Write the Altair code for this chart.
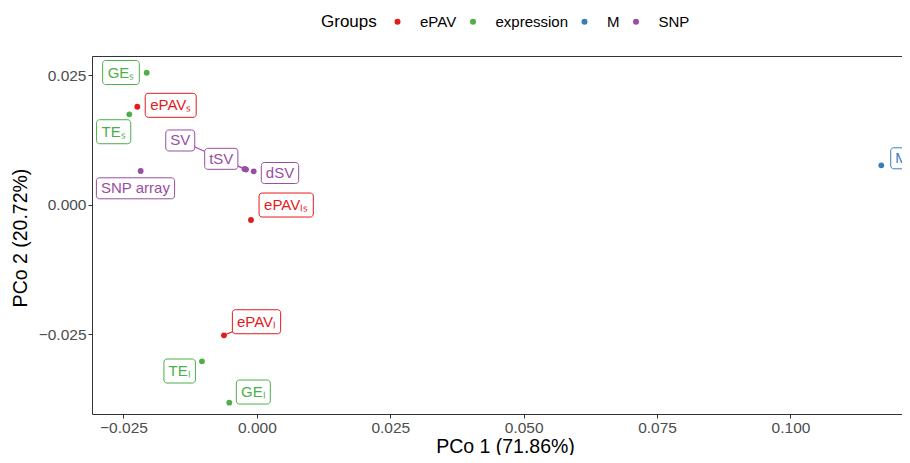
import altair as alt
import pandas as pd

# ---- data ----
labels = ["GEₛ", "ePAVₛ", "TEₛ", "SNP array", "SV", "tSV", "dSV",
          "ePAVₗₛ", "ePAVₗ", "TEₗ", "GEₗ", "M"]
groups = ["expression", "ePAV", "expression", "SNP", "SNP", "SNP", "SNP",
          "ePAV", "ePAV", "expression", "expression", "M"]
pco1 = [-0.02065, -0.02241, -0.02391, -0.02178, -0.00232, -0.00204, -0.00060,
        -0.00111, -0.00617, -0.01029, -0.00517, 0.11702]
pco2 = [0.02544, 0.01888, 0.01741, 0.00647, 0.00685, 0.00676, 0.00641,
        -0.00299, -0.02525, -0.03027, -0.03826, 0.00757]
# repelled label positions (data units)
label_x = [-0.02547, -0.01615, -0.02684, -0.02275, -0.01436, -0.00667, 0.00433,
           0.00549, -0.00007, -0.01447, -0.00067, 0.12080]
label_y = [0.02548, 0.01915, 0.01405, 0.00313, 0.01236, 0.00882, 0.00608,
           -0.0001, -0.02263, -0.03214, -0.03620, 0.00892]
has_segment = [False, False, False, False, True, True, False,
               False, True, False, False, False]

group_order = ["ePAV", "expression", "M", "SNP"]
group_colors = ["#E41A1C", "#4DAF4A", "#377EB8", "#984EA3"]

x_ticks = [-0.025, 0.0, 0.025, 0.05, 0.075, 0.1]
y_ticks = [-0.025, 0.0, 0.025]

# ---- layout ----
W, H = 810, 358
X_DOM = [-0.0309, 0.1209]
Y_DOM = [-0.04044, 0.02867]
FONT = "Liberation Sans"
LABEL_FS = 15

px_per_x = W / (X_DOM[1] - X_DOM[0])
px_per_y = H / (Y_DOM[1] - Y_DOM[0])

char_w = {'G': .778, 'E': .667, 'T': .611, 'e': .556, 'P': .667, 'A': .667,
          'V': .667, 'S': .667, 'N': .722, ' ': .278, 'a': .556, 'r': .333,
          'y': .5, 't': .278, 'd': .556, 'M': .833, 'ₛ': .40, 'ₗ': .22}


def text_px(s):
    w = sum(char_w.get(c, .556) for c in s)
    if "PAV" in s:
        w -= 0.16  # kerning of P-A-V
    return w * LABEL_FS


color_of = dict(zip(group_order, group_colors))
df = pd.DataFrame({"label": labels, "group": groups, "pco1": pco1, "pco2": pco2,
                   "lx": label_x, "ly": label_y, "seg": has_segment})
df["col"] = df["group"].map(color_of)
half_w = [(text_px(s) + 9) / 2 / px_per_x for s in labels]
half_h = [(24 if any(c in s for c in "ₛₗ") else 21) / 2 / px_per_y for s in labels]
df["bx1"] = df["lx"] - half_w
df["bx2"] = df["lx"] + half_w
df["by1"] = df["ly"] - half_h
df["by2"] = df["ly"] + half_h

xs = alt.Scale(domain=X_DOM, nice=False, zero=False)
ys = alt.Scale(domain=Y_DOM, nice=False, zero=False)
cs = alt.Scale(domain=group_order, range=group_colors)

x_axis = alt.Axis(values=x_ticks, format=".3f", title="PCo 1 (71.86%)",
                  titleX=413, titleY=38, titleBaseline="alphabetic")
y_axis = alt.Axis(values=y_ticks, format=".3f", title="PCo 2 (20.72%)",
                  titleX=-72, titleY=181.5, titleBaseline="middle", titleAngle=270)

base = alt.Chart(df)

segs = base.transform_filter("datum.seg").mark_rule(strokeWidth=1.2).encode(
    x=alt.X("pco1:Q", scale=xs, axis=x_axis),
    y=alt.Y("pco2:Q", scale=ys, axis=y_axis),
    x2="lx:Q", y2="ly:Q",
    stroke=alt.Stroke("col:N", scale=None),
)

boxes = base.mark_rect(fill="white", strokeWidth=1, cornerRadius=3).encode(
    x=alt.X("bx1:Q", scale=xs), x2="bx2:Q",
    y=alt.Y("by1:Q", scale=ys), y2="by2:Q",
    stroke=alt.Stroke("col:N", scale=None),
)

points = base.mark_circle(size=34, opacity=1).encode(
    x=alt.X("pco1:Q", scale=xs, axis=x_axis),
    y=alt.Y("pco2:Q", scale=ys, axis=y_axis),
    color=alt.Color("group:N", scale=cs, title="Groups",
                    legend=alt.Legend(orient="none", direction="horizontal",
                                      titleOrient="left", legendX=229, legendY=-42)),
)

texts = base.mark_text(fontSize=LABEL_FS, font=FONT, align="center",
                       baseline="middle").encode(
    x=alt.X("lx:Q", scale=xs), y=alt.Y("ly:Q", scale=ys),
    text="label:N",
    fill=alt.Fill("col:N", scale=None),
)

chart = alt.layer(segs, boxes, points, texts).properties(
    width=W, height=H,
    autosize=alt.AutoSizeParams(type="none"),
    padding={"left": 84, "top": 48, "right": 0, "bottom": 41},
).configure_view(
    stroke="#333333", strokeWidth=1
).configure_axis(
    domain=False, grid=False, tickColor="#333333", tickSize=4,
    labelFont=FONT, labelFontSize=15.5, labelColor="#4d4d4d", labelPadding=2,
    titleFont=FONT, titleFontSize=19.5, titleColor="black", titleFontWeight="normal",
).configure_legend(
    titleFont=FONT, titleFontSize=17, titleColor="black", titleFontWeight="normal",
    labelFont=FONT, labelFontSize=15, labelColor="black",
    symbolType="circle", symbolSize=36, symbolStrokeWidth=0,
    labelOffset=15, columnPadding=8.5, titlePadding=13,
).configure_text(font=FONT)

chart.save("out.html", embed_options={"renderer": "svg", "actions": False})
